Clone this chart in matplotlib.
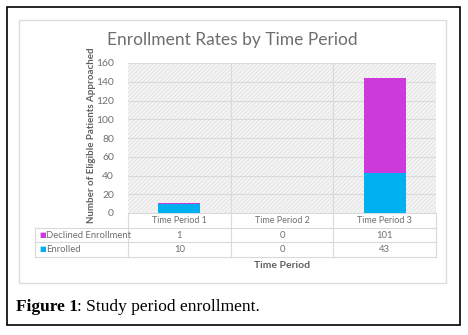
#!/usr/bin/env python3
import matplotlib
matplotlib.use("Agg")
import matplotlib.pyplot as plt
from matplotlib.patches import Rectangle
from matplotlib.lines import Line2D

CATEGORIES = ["Time Period 1", "Time Period 2", "Time Period 3"]
ENROLLED = [10, 0, 43]
DECLINED = [1, 0, 101]
SERIES = ["Declined Enrollment", "Enrolled"]
Y_TICKS = [0, 20, 40, 60, 80, 100, 120, 140, 160]

C_DECL = "#CC3ADB"
C_ENR = "#00B0F0"
GRAY = "#707070"
GRID = "#dadada"

W, H = 468, 335
plt.rcParams["hatch.linewidth"] = 0.5
plt.rcParams["hatch.color"] = "#dedede"

fig = plt.figure(figsize=(W / 100, H / 100), dpi=100)


def fx(px):
    return px / W


def fy(py):
    return 1 - py / H


# outer black frame and inner chart frame
fig.patches.append(Rectangle((fx(7), fy(325)), fx(453), 318 / H, transform=fig.transFigure,
                             fill=False, edgecolor="black", lw=1.2))
fig.patches.append(Rectangle((fx(19), fy(283)), fx(427), 263 / H, transform=fig.transFigure,
                             fill=False, edgecolor="#dcdcdc", lw=1.0))

ax = fig.add_axes([fx(128), fy(213), fx(308), 150 / H])
ax.set_facecolor("white")
ax.add_patch(Rectangle((0, 0), 1, 1, transform=ax.transAxes, facecolor="#f4f4f4",
                       hatch="////////", edgecolor="#dedede", lw=0, zorder=0))

x = list(range(len(CATEGORIES)))
ax.bar(x, ENROLLED, width=0.41, color=C_ENR, zorder=3)
ax.bar(x, DECLINED, width=0.41, bottom=ENROLLED, color=C_DECL, zorder=3)

ax.set_xlim(-0.5, len(CATEGORIES) - 0.5)
ax.set_ylim(0, 160)
ax.set_yticks(Y_TICKS)
ax.set_yticklabels([str(t) for t in Y_TICKS], fontsize=7.5, color=GRAY, family="Lato")
ax.tick_params(axis="y", length=0, pad=10)
ax.set_xticks([])
for t in Y_TICKS[1:]:
    ax.axhline(t, color=GRID, lw=0.8, zorder=1)
for b in [0.5, 1.5]:
    ax.axvline(b, color=GRID, lw=0.8, zorder=1)
for s in ax.spines.values():
    s.set_visible(False)

# data table below the plot
tr = ax.get_xaxis_transform()
tab_left = -1.406
line_ys = [-0.1, -0.193, -0.293]
for yy in line_ys:
    ax.add_line(Line2D([tab_left, 2.5], [yy, yy], transform=tr, color=GRID, lw=0.8, clip_on=False))
ax.add_line(Line2D([-0.5, 2.5], [0, 0], transform=tr, color=GRID, lw=0.8, clip_on=False))
for xb in [-0.5, 0.5, 1.5, 2.5]:
    ax.add_line(Line2D([xb, xb], [0, line_ys[-1]], transform=tr, color=GRID, lw=0.8, clip_on=False))
ax.add_line(Line2D([tab_left, tab_left], [line_ys[0], line_ys[-1]], transform=tr, color=GRID,
                   lw=0.8, clip_on=False))

for i, c in enumerate(CATEGORIES):
    ax.text(i, -0.053, c, transform=tr, ha="center", va="center", fontsize=6.5, color=GRAY,
            family="Lato")

rows = [(SERIES[0], DECLINED, C_DECL, -0.147), (SERIES[1], ENROLLED, C_ENR, -0.24)]
for name, vals, col, yy in rows:
    ax.text(tab_left + 0.045, yy, "\u25a0", transform=tr, ha="left", va="center", fontsize=5,
            color=col)
    ax.text(tab_left + 0.11, yy, name, transform=tr, ha="left", va="center", fontsize=6.8,
            color=GRAY, family="Lato")
    for i, v in enumerate(vals):
        ax.text(i, yy, str(v), transform=tr, ha="center", va="center", fontsize=6.8, color=GRAY,
                family="Lato")

fig.text(fx(232), fy(40), "Enrollment Rates by Time Period", ha="center", va="center",
         fontsize=12.5, color="#6e6e6e", family="Lato")
fig.text(fx(282), fy(265), "Time Period", ha="center", va="center", fontsize=7.5,
         color="#606060", family="Lato", weight="bold")
fig.text(fx(92), fy(135), "Number of Eligible Patients Approached", ha="center", va="center",
         rotation=90, fontsize=7, color="#606060", family="Lato", weight="bold")

fig.text(fx(16), fy(307), "Figure 1", ha="left", va="center", fontsize=12.5, weight="bold",
         family="Liberation Serif")
fig.text(fx(77), fy(307), ": Study period enrollment.", ha="left", va="center", fontsize=12.5,
         family="Liberation Serif")

fig.savefig("out.png", dpi=100)
